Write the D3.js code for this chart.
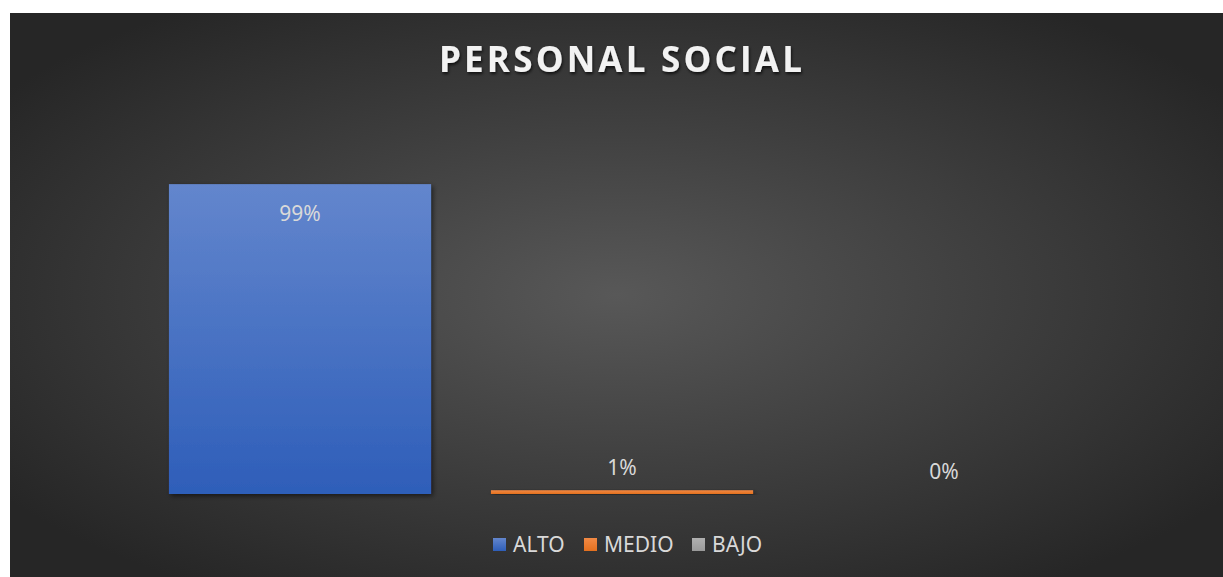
<!DOCTYPE html>
<html>
<head>
<meta charset="utf-8">
<script src="https://cdn.jsdelivr.net/npm/d3@7"></script>
<style>
  body { margin: 0; background: #fff; }
  svg { display: block; }
</style>
</head>
<body>
<div id="chart"></div>
<script>
// Data
const categories = ["ALTO", "MEDIO", "BAJO"];
const values = [0.99, 0.012, 0];
const labels = ["99%", "1%", "0%"];
const title = "PERSONAL SOCIAL";

const width = 1223;
const height = 577;

const colors = {
  ALTO: ["#6386cd", "#2e5eb9"],
  MEDIO: ["#f28a45", "#e3701f"],
  BAJO: ["#b0b0b0", "#9a9a9a"]
};

const svg = d3.select("#chart")
  .append("svg")
  .attr("width", width)
  .attr("height", height);

const defs = svg.append("defs");

// background radial gradient
const bg = defs.append("radialGradient")
  .attr("id", "bg")
  .attr("cx", "50%").attr("cy", "50%").attr("r", "62%");
bg.append("stop").attr("offset", "0%").attr("stop-color", "#585858");
bg.append("stop").attr("offset", "100%").attr("stop-color", "#262626");

categories.forEach((c) => {
  const g = defs.append("linearGradient")
    .attr("id", "grad-" + c)
    .attr("x1", 0).attr("y1", 0).attr("x2", 0).attr("y2", 1);
  g.append("stop").attr("offset", "0%").attr("stop-color", colors[c][0]);
  g.append("stop").attr("offset", "100%").attr("stop-color", colors[c][1]);
});

const shadow = defs.append("filter").attr("id", "shadow")
  .attr("x", "-10%").attr("y", "-10%").attr("width", "130%").attr("height", "130%");
shadow.append("feDropShadow")
  .attr("dx", 2).attr("dy", 2).attr("stdDeviation", 2.5)
  .attr("flood-color", "#000").attr("flood-opacity", 0.55);

const tshadow = defs.append("filter").attr("id", "tshadow");
tshadow.append("feDropShadow")
  .attr("dx", 1).attr("dy", 2).attr("stdDeviation", 1.5)
  .attr("flood-color", "#000").attr("flood-opacity", 0.7);

// chart area background
svg.append("rect")
  .attr("x", 10).attr("y", 13)
  .attr("width", width - 10).attr("height", height - 13)
  .attr("fill", "url(#bg)");

// title
svg.append("text")
  .attr("x", 622)
  .attr("y", 72)
  .attr("text-anchor", "middle")
  .attr("font-family", "'Open Sans', sans-serif")
  .attr("font-weight", "bold")
  .attr("font-size", "35px")
  .attr("letter-spacing", "3.2px")
  .attr("fill", "#f2f2f2")
  .attr("filter", "url(#tshadow)")
  .text(title);

// scales
const x = d3.scaleBand()
  .domain(categories)
  .range([139, 1105])
  .paddingInner(0.186)
  .paddingOuter(0.093);

const y = d3.scaleLinear()
  .domain([0, 1])
  .range([494, 181]);

// bars
svg.selectAll(".bar")
  .data(categories)
  .enter()
  .append("rect")
    .attr("class", "bar")
    .attr("x", (d) => x(d))
    .attr("y", (d, i) => y(values[i]))
    .attr("width", x.bandwidth())
    .attr("height", (d, i) => y(0) - y(values[i]))
    .attr("fill", (d) => "url(#grad-" + d + ")")
    .attr("filter", "url(#shadow)");

// data labels
svg.selectAll(".lbl")
  .data(categories)
  .enter()
  .append("text")
    .attr("class", "lbl")
    .attr("x", (d) => x(d) + x.bandwidth() / 2)
    .attr("y", (d, i) => values[i] > 0.5 ? y(values[i]) + 37 : y(values[i]) - 15)
    .attr("text-anchor", "middle")
    .attr("font-family", "'Noto Sans', sans-serif")
    .attr("font-size", "21px")
    .attr("fill", "#d9d9d9")
    .text((d, i) => labels[i]);

// legend
const legendX = [493, 584, 692];
const legend = svg.selectAll(".leg")
  .data(categories)
  .enter()
  .append("g")
    .attr("class", "leg")
    .attr("transform", (d, i) => `translate(${legendX[i]},538)`);

legend.append("rect")
  .attr("width", 13).attr("height", 13)
  .attr("fill", (d) => "url(#grad-" + d + ")");

legend.append("text")
  .attr("x", 20)
  .attr("y", 14)
  .attr("font-family", "'Noto Sans', sans-serif")
  .attr("font-size", "21px")
  .attr("fill", "#d9d9d9")
  .text((d) => d);
</script>
</body>
</html>
